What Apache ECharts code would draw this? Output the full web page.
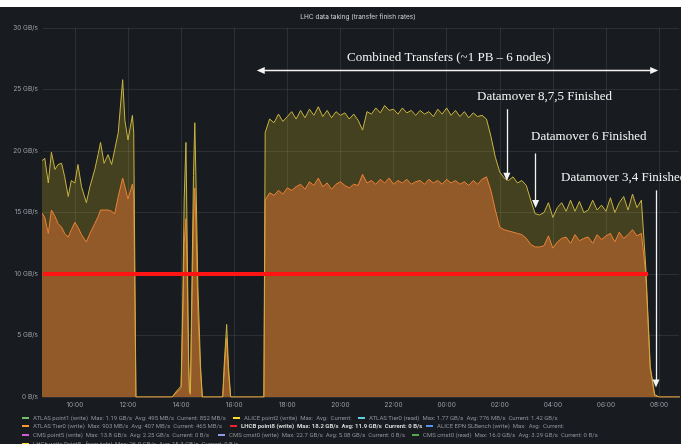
<!DOCTYPE html>
<html>
<head>
<meta charset="utf-8">
<script src="https://cdn.jsdelivr.net/npm/echarts@6/dist/echarts.min.js"></script>
<style>
  html, body { margin: 0; padding: 0; background: #ffffff; }
  #main { position: absolute; left: 0; top: 7px; width: 681px; height: 437px; }
</style>
</head>
<body>
<div id="main"></div>
<script>
// first block (morning)
var times1 = ['08:45','08:52','09:00','09:07','09:15','09:22','09:30','09:37','09:45','09:52',
  '10:00','10:07','10:15','10:26','10:34','10:45','10:53','10:58','11:06','11:15',
  '11:23','11:30','11:38','11:48','11:53','12:00','12:10','12:13','12:18'];
var total1 = [19.2,19.4,17.4,19.9,18.5,18.9,19.0,17.9,16.3,17.6,
  17.4,18.9,17.1,15.8,17.1,18.5,19.8,20.7,19.0,19.7,
  18.9,20.1,21.5,25.8,22.5,20.9,22.9,21.5,0];
var point8_1 = [15.0,14.6,13.3,15.2,14.7,14.1,13.8,13.3,13.0,13.6,
  14.2,13.8,13.2,12.6,13.3,14.1,14.7,15.2,15.2,15.2,
  15.1,14.9,16.3,17.8,17.1,16.1,17.3,16.5,0];

// short bursts in the afternoon
var timesSpikes = ['13:40','13:48','14:00','14:04','14:07','14:11','14:14','14:17','14:19',
  '14:21','14:24','14:28','14:31','14:34','14:38','14:44','14:48',
  '15:34','15:38','15:43','15:47','15:52','16:55','17:07'];
var totalSpikes = [0,0.4,0.9,8.0,16.0,20.7,12.0,3.0,0.5,
  0.3,8.0,18.0,22.3,17.0,9.0,2.5,0,
  0,3.0,5.9,2.5,0,0,0];
var point8Spikes = [0,0.3,0.7,6.5,12.5,14.5,9.5,2.5,0.4,
  0.2,6.5,14.5,17.0,13.5,7.0,2.0,0,
  0,2.5,4.8,2.0,0,0,0];

// combined transfers
var times2 = ['17:10','17:20','17:30','17:40','17:50',
  '18:00','18:10','18:20','18:30','18:40','18:50',
  '19:00','19:10','19:20','19:30','19:40','19:50',
  '20:00','20:10','20:20','20:30','20:40','20:50',
  '21:00','21:10','21:20','21:30','21:40','21:50',
  '22:00','22:10','22:20','22:30','22:40','22:50',
  '23:00','23:10','23:20','23:30','23:40','23:50',
  '00:00','00:10','00:20','00:30','00:40','00:50',
  '01:00','01:10','01:20','01:30','01:40','01:50',
  '02:00','02:10','02:20','02:30','02:40','02:50',
  '03:00','03:10','03:20','03:30','03:40','03:50',
  '04:00','04:10','04:20','04:30','04:40','04:50',
  '05:00','05:10','05:20','05:30','05:40','05:50',
  '06:00','06:10','06:20','06:30','06:40','06:50',
  '07:00','07:10','07:20','07:30','07:40','07:50',
  '08:00','08:50'];
var total2 = [21.5,22.6,22.3,23.0,22.4,
  22.8,23.2,22.6,23.3,22.7,23.4,
  22.9,23.6,22.8,23.3,22.7,23.2,
  22.9,23.1,22.6,23.0,22.5,21.7,
  23.2,23.0,23.5,23.1,23.7,23.3,
  23.4,23.0,23.5,23.1,23.3,22.9,
  23.3,23.0,23.2,22.8,23.4,23.0,
  23.5,22.9,23.3,22.8,23.2,22.7,
  23.1,22.8,22.9,22.6,21.2,19.5,
  18.3,17.8,17.6,17.9,17.4,17.6,
  17.2,16.0,14.9,14.8,15.0,15.8,
  14.6,15.4,15.8,15.1,16.0,15.1,
  15.9,15.0,15.2,16.0,15.2,15.6,
  15.1,16.2,15.0,15.8,16.3,15.2,
  16.5,15.4,16.0,10.5,2.5,0.2,
  0,0];
var point8_2 = [16.0,16.6,16.4,16.8,16.5,
  17.0,16.8,17.1,17.3,16.9,17.5,
  17.2,17.8,17.1,17.4,16.9,17.3,
  17.5,17.2,17.0,17.3,17.2,18.1,
  17.4,17.6,17.3,17.7,17.4,17.8,
  17.3,17.6,17.4,17.7,17.3,17.5,
  17.6,17.3,17.7,17.4,17.6,17.3,
  17.7,17.4,17.6,17.3,17.5,17.2,
  17.6,17.3,17.7,17.9,16.8,15.2,
  13.8,13.6,13.5,13.4,13.3,13.2,
  12.9,12.4,12.2,12.2,12.3,13.1,
  12.1,12.6,12.9,13.0,12.5,13.2,
  12.7,12.9,13.0,12.5,13.2,12.8,
  13.1,13.3,12.6,13.4,12.9,13.2,
  13.6,13.1,13.3,10.0,2.3,0.1,
  0,0];

var threshold = 10;
var yTicks = [0, 5, 10, 15, 20, 25, 30];

var legendText = {
  'ATLAS point1 (write)': 'ATLAS point1 (write)  Max: 1.19 GB/s  Avg: 495 MB/s  Current: 852 MB/s',
  'ALICE point2 (write)': 'ALICE point2 (write)  Max:  Avg:  Current:',
  'ATLAS Tier0 (read)': 'ATLAS Tier0 (read)  Max: 1.77 GB/s  Avg: 776 MB/s  Current: 1.42 GB/s',
  'ATLAS Tier0 (write)': 'ATLAS Tier0 (write)  Max: 903 MB/s  Avg: 407 MB/s  Current: 465 MB/s',
  'LHCB point8 (write)': 'LHCB point8 (write)  Max: 18.2 GB/s  Avg: 11.9 GB/s  Current: 0 B/s',
  'ALICE EPN SLBench (write)': 'ALICE EPN SLBench (write)  Max:  Avg:  Current:',
  'CMS point5 (write)': 'CMS point5 (write)  Max: 13.8 GB/s  Avg: 2.25 GB/s  Current: 0 B/s',
  'CMS cmst0 (write)': 'CMS cmst0 (write)  Max: 22.7 GB/s  Avg: 5.08 GB/s  Current: 0 B/s',
  'CMS cmst0 (read)': 'CMS cmst0 (read)  Max: 16.0 GB/s  Avg: 3.29 GB/s  Current: 0 B/s',
  'LHCb write Point8 - from total': 'LHCb write Point8 - from total  Max: 26.0 GB/s  Avg: 15.3 GB/s  Current: 0 B/s'
};

// hours since midnight of the first day
function at(hhmm, day) {
  var p = hhmm.split(':');
  return day * 24 + (+p[0]) + (+p[1]) / 60;
}
// turn HH:MM list into hours, rolling over midnight
function toHours(list) {
  var day = 0, prev = -1;
  return list.map(function (s) {
    var p = s.split(':');
    var m = (+p[0]) * 60 + (+p[1]);
    if (m < prev) day++;
    prev = m;
    return at(s, day);
  });
}
function pad(n) { return (n < 10 ? '0' : '') + n; }

var allTimes = toHours(times1.concat(timesSpikes, times2));
var allTotal = total1.concat(totalSpikes, total2);
var allPoint8 = point8_1.concat(point8Spikes, point8_2);
function pairs(vals) { return allTimes.map(function (t, i) { return [t, vals[i]]; }); }

var chartDom = document.getElementById('main');
var myChart = echarts.init(chartDom);
var option;

var labelColor = '#a0a1a8';
var gridColor = 'rgba(255,255,255,0.09)';

function legendItem(name, color, left, top, bold) {
  return {
    data: [{ name: name, itemStyle: { color: color } }],
    left: left, top: top, padding: 0,
    icon: 'rect', itemWidth: 7, itemHeight: 2,
    selectedMode: false,
    formatter: function (n) { return legendText[n]; },
    textStyle: {
      color: bold ? '#d8d9da' : '#8e909a',
      fontSize: 6, fontFamily: 'Roboto',
      fontWeight: bold ? 'bold' : 'normal',
      padding: [0, 0, 0, -1]
    }
  };
}

function emptySeries(name, color) {
  return { name: name, type: 'line', data: [], color: color, showSymbol: false };
}

var noteStyle = { color: '#f4f4f4', width: 1.3, type: 'solid' };
var noteFont = { fill: '#f4f4f4', fontSize: 13, fontFamily: 'Liberation Serif' };

option = {
  backgroundColor: '#181b1f',
  animation: false,
  title: {
    text: 'LHC data taking (transfer finish rates)',
    left: 353, top: 2, textAlign: 'center',
    textStyle: { color: '#d0d1d6', fontSize: 6.5, fontWeight: 'normal', fontFamily: 'Inter' }
  },
  grid: { left: 43, right: 2, top: 21, bottom: 47 },
  xAxis: {
    type: 'value',
    min: at('08:48', 0),
    max: at('08:45', 1),
    splitNumber: 12,
    axisLine: { show: false },
    axisTick: { show: false },
    axisLabel: {
      color: labelColor, fontSize: 6.5, fontFamily: 'Inter', margin: 5,
      showMinLabel: false, showMaxLabel: false,
      formatter: function (v) { return pad(Math.round(v) % 24) + ':00'; }
    },
    splitLine: { show: true, showMinLine: false, showMaxLine: false, lineStyle: { color: gridColor, width: 1 } }
  },
  yAxis: {
    type: 'value',
    min: yTicks[0], max: yTicks[yTicks.length - 1], interval: 5,
    axisLine: { show: false },
    axisTick: { show: false },
    axisLabel: {
      color: labelColor, fontSize: 6.5, fontFamily: 'Inter', margin: 5,
      formatter: function (v) { return v === 0 ? '0 B/s' : v + ' GB/s'; }
    },
    splitLine: { lineStyle: { color: gridColor, width: 1 } }
  },
  legend: [
    legendItem('ATLAS point1 (write)', '#73bf69', 22, 408),
    legendItem('ALICE point2 (write)', '#fade2a', 233, 408),
    legendItem('ATLAS Tier0 (read)', '#5fd0e0', 358, 408),
    legendItem('ATLAS Tier0 (write)', '#ff9830', 22, 416),
    legendItem('LHCB point8 (write)', '#f2202c', 230, 416, true),
    legendItem('ALICE EPN SLBench (write)', '#5794f2', 426, 416),
    legendItem('CMS point5 (write)', '#d05ad0', 22, 425),
    legendItem('CMS cmst0 (write)', '#8f9be8', 218, 425),
    legendItem('CMS cmst0 (read)', '#56a64b', 412, 425),
    legendItem('LHCb write Point8 - from total', '#fade2a', 22, 434)
  ],
  graphic: [
    { type: 'text', left: 347, top: 44, style: Object.assign({ text: 'Combined Transfers (~1 PB \u2013 6 nodes)' }, noteFont) },
    { type: 'text', left: 477, top: 83, style: Object.assign({ text: 'Datamover 8,7,5 Finished' }, noteFont) },
    { type: 'text', left: 531, top: 123, style: Object.assign({ text: 'Datamover 6 Finished' }, noteFont) },
    { type: 'text', left: 561, top: 164, style: Object.assign({ text: 'Datamover 3,4 Finished' }, noteFont) }
  ],
  series: [
    {
      name: 'LHCB point8 (write)',
      type: 'line',
      data: pairs(allPoint8),
      showSymbol: false,
      color: '#f2495c',
      lineStyle: { width: 1, color: '#ea6b3a' },
      areaStyle: { color: '#783a28', opacity: 1 },
      z: 2
    },
    {
      name: 'LHCb write Point8 - from total',
      type: 'line',
      data: pairs(allTotal),
      showSymbol: false,
      color: '#fade2a',
      lineStyle: { width: 1, color: '#c9b440' },
      areaStyle: { color: 'rgba(250,222,42,0.28)' },
      z: 3
    },
    {
      name: 'threshold',
      type: 'line',
      data: [[at('08:48', 0), threshold], [at('07:35', 1), threshold]],
      showSymbol: false,
      lineStyle: { width: 4, color: '#ff1414' },
      silent: true,
      z: 5,
      markLine: {
        silent: true,
        animation: false,
        label: { show: false },
        lineStyle: noteStyle,
        symbol: ['none', 'triangle'],
        symbolSize: [7, 8],
        data: [
          [{ coord: [at('17:00', 0), 26.55], symbol: 'triangle' }, { coord: [at('07:49', 1), 26.55] }],
          [{ coord: [at('02:16', 1), 23.4] }, { coord: [at('02:16', 1), 17.9] }],
          [{ coord: [at('03:21', 1), 19.8] }, { coord: [at('03:21', 1), 15.7] }],
          [{ coord: [at('07:53', 1), 16.8] }, { coord: [at('07:53', 1), 1.1] }]
        ]
      }
    },
    emptySeries('ATLAS point1 (write)', '#73bf69'),
    emptySeries('ALICE point2 (write)', '#fade2a'),
    emptySeries('ATLAS Tier0 (read)', '#5fd0e0'),
    emptySeries('ATLAS Tier0 (write)', '#ff9830'),
    emptySeries('ALICE EPN SLBench (write)', '#5794f2'),
    emptySeries('CMS point5 (write)', '#d05ad0'),
    emptySeries('CMS cmst0 (write)', '#8f9be8'),
    emptySeries('CMS cmst0 (read)', '#56a64b')
  ]
};

myChart.setOption(option);
</script>
</body>
</html>
